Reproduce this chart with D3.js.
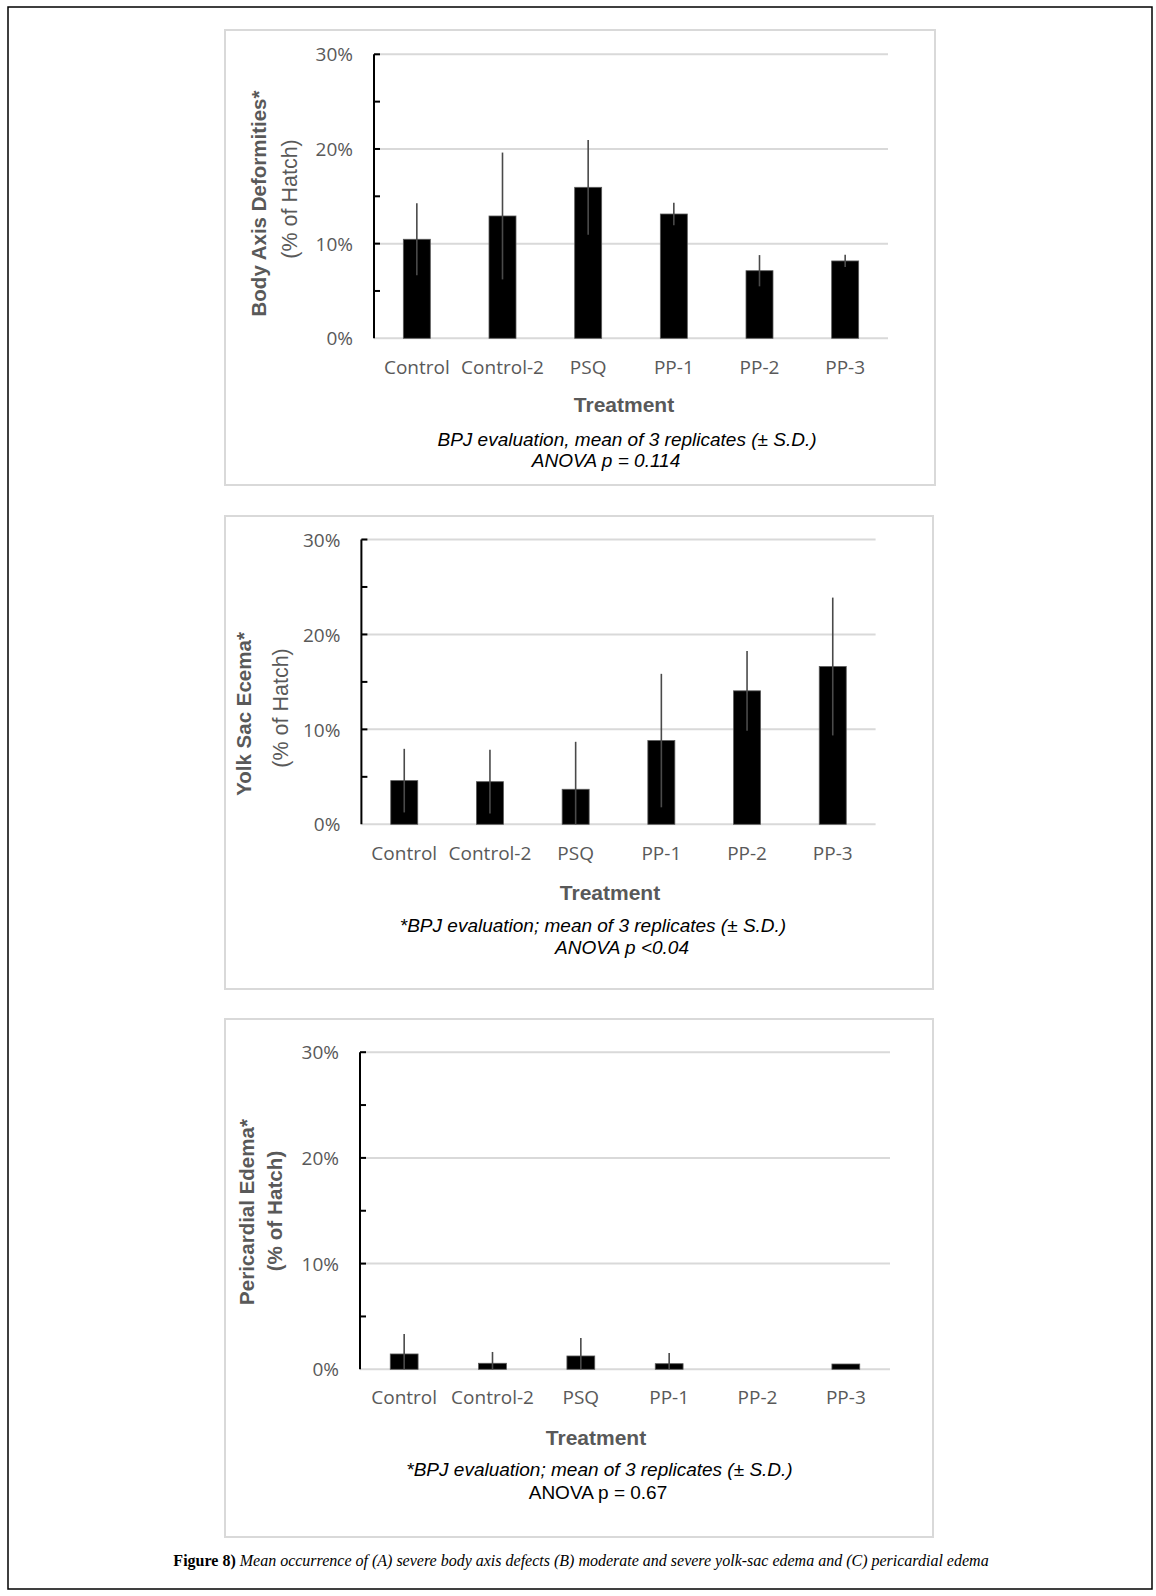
<!DOCTYPE html>
<html>
<head>
<meta charset="utf-8">
<script src="https://cdn.jsdelivr.net/npm/d3@7"></script>
<style>
  html, body { margin: 0; padding: 0; background: #fff; }
  svg { display: block; }
</style>
</head>
<body>
<svg id="fig" width="1156" height="1596"></svg>
<script>
// ---------- DATA ----------
const categories = ["Control", "Control-2", "PSQ", "PP-1", "PP-2", "PP-3"];
const yTicks = [0, 10, 20, 30];
const yMinorTicks = [5, 10, 15, 20, 25, 30];

const bodyAxisMean = [10.46, 12.92, 15.95, 13.13, 7.14, 8.17];
const bodyAxisSD   = [3.8, 6.7, 5.0, 1.2, 1.65, 0.65];

const yolkSacMean = [4.6, 4.49, 3.69, 8.82, 14.06, 16.62];
const yolkSacSD   = [3.35, 3.36, 5.0, 7.03, 4.2, 7.26];

const pericardialMean = [1.45, 0.57, 1.26, 0.53, 0, 0.5];
const pericardialSD   = [1.89, 1.07, 1.70, 1.01, 0, 0.47];

const titleA = ["Body Axis Deformities*", "(% of Hatch)"];
const titleB = ["Yolk Sac Ecema*", "(% of Hatch)"];
const titleC = ["Pericardial Edema*", "(% of Hatch)"];
const notesA = ["BPJ evaluation, mean of 3 replicates (\u00B1 S.D.)", "ANOVA p = 0.114"];
const notesB = ["*BPJ evaluation; mean of 3 replicates (\u00B1 S.D.)", "ANOVA p <0.04"];
const notesC = ["*BPJ evaluation; mean of 3 replicates (\u00B1 S.D.)", "ANOVA p = 0.67"];
const xTitle = "Treatment";

// ---------- LAYOUT ----------
const svg = d3.select("#fig");
svg.append("rect").attr("x", 0).attr("y", 0).attr("width", 1156).attr("height", 1596).attr("fill", "#fff");
svg.append("rect").attr("x", 8).attr("y", 7).attr("width", 1144).attr("height", 1582)
  .attr("fill", "none").attr("stroke", "#000").attr("stroke-width", 1.5);

const panels = [
  { mean: bodyAxisMean, sd: bodyAxisSD, title: titleA, notes: notesA, titleBold2: false, note2Italic: true,
    box: [225, 30, 710, 455], x0: 374, x1: 888, yTop: 54.3, yBot: 338.3,
    labY: 367, trX: 624, trY: 405, t1X: 259, t1Y: 203.5, t2X: 289, t2Y: 199,
    n1X: 627, n1Y: 439, n2X: 606, n2Y: 460 },
  { mean: yolkSacMean, sd: yolkSacSD, title: titleB, notes: notesB, titleBold2: false, note2Italic: true,
    box: [225, 516, 708, 473], x0: 361.4, x1: 875.6, yTop: 539.5, yBot: 824.3,
    labY: 853, trX: 610, trY: 893, t1X: 244, t1Y: 714, t2X: 280, t2Y: 708,
    n1X: 593, n1Y: 925, n2X: 622, n2Y: 947 },
  { mean: pericardialMean, sd: pericardialSD, title: titleC, notes: notesC, titleBold2: true, note2Italic: false,
    box: [225, 1019, 708, 518], x0: 360, x1: 890, yTop: 1052.2, yBot: 1369.3,
    labY: 1397, trX: 596, trY: 1438, t1X: 247, t1Y: 1212, t2X: 275, t2Y: 1211,
    n1X: 599.5, n1Y: 1469, n2X: 598, n2Y: 1492 }
];

const grey = "#595959";
const tickFont = "'Open Sans', sans-serif";
const arial = "'Liberation Sans', Arial, sans-serif";

panels.forEach(p => {
  const g = svg.append("g");
  // panel box
  g.append("rect").attr("x", p.box[0]).attr("y", p.box[1]).attr("width", p.box[2]).attr("height", p.box[3])
    .attr("fill", "#fff").attr("stroke", "#d9d9d9").attr("stroke-width", 2);

  const x = d3.scaleBand().domain(categories).range([p.x0, p.x1]).paddingInner(0.685).paddingOuter(0.3425);
  const y = d3.scaleLinear().domain([0, 30]).range([p.yBot, p.yTop]);

  // gridlines
  g.append("g").selectAll("line").data(yTicks).join("line")
    .attr("x1", p.x0).attr("x2", p.x1).attr("y1", d => y(d)).attr("y2", d => y(d))
    .attr("stroke", "#d9d9d9").attr("stroke-width", 2);

  // y axis labels
  const yAxis = d3.axisLeft(y).tickValues(yTicks).tickFormat(d => d + "%").tickSize(0).tickPadding(21);
  const ag = g.append("g").attr("transform", `translate(${p.x0},0)`).call(yAxis);
  ag.select(".domain").remove();
  ag.selectAll("text").attr("font-family", tickFont).attr("font-size", 19).attr("fill", grey)
    .attr("dy", "0.35em");

  // bars
  g.append("g").selectAll("rect").data(categories).join("rect")
    .attr("x", d => x(d)).attr("width", x.bandwidth())
    .attr("y", (d, i) => y(p.mean[i])).attr("height", (d, i) => y(0) - y(p.mean[i]))
    .attr("fill", "#000").attr("stroke", "#5a5a5a").attr("stroke-width", 0.8);

  // error bars
  g.append("g").selectAll("line").data(categories).join("line")
    .filter((d, i) => p.sd[i] > 0)
    .attr("x1", d => x(d) + x.bandwidth() / 2).attr("x2", d => x(d) + x.bandwidth() / 2)
    .attr("y1", (d, i) => y(Math.max(0, p.mean[i] - p.sd[i])))
    .attr("y2", (d, i) => y(p.mean[i] + p.sd[i]))
    .attr("stroke", "#4a4a4a").attr("stroke-width", 1.6);

  // y axis line + ticks
  g.append("line").attr("x1", p.x0).attr("x2", p.x0).attr("y1", y(0)).attr("y2", y(30))
    .attr("stroke", "#000").attr("stroke-width", 2);
  g.append("g").selectAll("line").data(yMinorTicks).join("line")
    .attr("x1", p.x0).attr("x2", p.x0 + 6).attr("y1", d => y(d)).attr("y2", d => y(d))
    .attr("stroke", "#000").attr("stroke-width", 2);

  // x labels via axis
  const xAxis = d3.axisBottom(x).tickSize(0).tickPadding(0);
  const xg = g.append("g").attr("transform", `translate(0,${p.labY})`).call(xAxis);
  xg.select(".domain").remove();
  xg.selectAll("text").attr("font-family", tickFont).attr("font-size", 19).attr("fill", grey)
    .attr("dy", "0.35em").attr("y", 0);

  // x title
  g.append("text").attr("x", p.trX).attr("y", p.trY).attr("dy", "0.35em").attr("text-anchor", "middle")
    .attr("font-family", arial).attr("font-weight", "bold").attr("font-size", 21).attr("fill", grey)
    .text(xTitle);

  // y titles
  g.append("text").attr("transform", `translate(${p.t1X},${p.t1Y}) rotate(-90)`)
    .attr("dy", "0.35em").attr("text-anchor", "middle")
    .attr("font-family", arial).attr("font-weight", "bold").attr("font-size", 20.5).attr("fill", grey)
    .text(p.title[0]);
  g.append("text").attr("transform", `translate(${p.t2X},${p.t2Y}) rotate(-90)`)
    .attr("dy", "0.35em").attr("text-anchor", "middle")
    .attr("font-family", arial).attr("font-weight", p.titleBold2 ? "bold" : "normal")
    .attr("font-size", p.titleBold2 ? 20.7 : 21.5).attr("fill", grey)
    .text(p.title[1]);

  // notes
  g.append("text").attr("x", p.n1X).attr("y", p.n1Y).attr("dy", "0.35em").attr("text-anchor", "middle")
    .attr("font-family", arial).attr("font-style", "italic").attr("font-size", 19).attr("fill", "#000")
    .text(p.notes[0]);
  g.append("text").attr("x", p.n2X).attr("y", p.n2Y).attr("dy", "0.35em").attr("text-anchor", "middle")
    .attr("font-family", arial).attr("font-style", p.note2Italic ? "italic" : "normal").attr("font-size", 19).attr("fill", "#000")
    .text(p.notes[1]);
});

// caption
const cap = svg.append("text").attr("x", 581).attr("y", 1560).attr("dy", "0.35em").attr("text-anchor", "middle")
  .attr("font-family", "'Liberation Serif', 'DejaVu Serif', serif").attr("font-size", 16).attr("fill", "#000");
cap.append("tspan").attr("font-weight", "bold").text("Figure 8)");
cap.append("tspan").attr("font-style", "italic")
  .text(" Mean occurrence of (A) severe body axis defects (B) moderate and severe yolk-sac edema and (C) pericardial edema");
</script>
</body>
</html>
